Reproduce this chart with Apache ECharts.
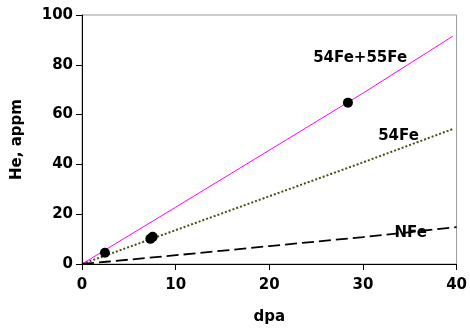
<!DOCTYPE html>
<html><head><meta charset="utf-8">
<script src="https://cdn.jsdelivr.net/npm/echarts@6/dist/echarts.min.js"></script>
<style>html,body{margin:0;padding:0;background:#fff}#c{width:470px;height:333px}</style>
</head><body><div id="c"></div>
<script>
const xTicks = [0, 10, 20, 30, 40];
const yTicks = [0, 20, 40, 60, 80, 100];
const fe54fe55 = [[0,0],[10,22.8],[20,45.7],[30,68.6],[39.6,91.5]];
const fe54 = [[0,0],[10,13.6],[20,27.2],[30,40.8],[39.6,54.2]];
const nfe = [[0,0],[2.6,0.9],[12.5,4.4],[20,7.2],[30,10.8],[40,14.8]];
const measured = [[2.45,4.5],[7.3,10.1],[7.55,10.9],[28.4,64.8]];
const labels = [
  {name:'54Fe+55Fe', at:[29.7,82.7]},
  {name:'54Fe', at:[33.8,51.4]},
  {name:'NFe', at:[35.1,12.4]}
];
const font = 'DejaVu Sans, sans-serif';
const chart = echarts.init(document.getElementById('c'), null, {renderer:'canvas'});
chart.setOption({
  animation:false,
  grid:{left:82,right:9,top:15,bottom:69,show:true,borderColor:'#999',borderWidth:1,backgroundColor:'#fff'},
  xAxis:{type:'value',min:0,max:40,interval:10,
    name:'dpa',nameLocation:'middle',nameGap:46,
    nameTextStyle:{fontFamily:font,fontWeight:'bold',fontSize:15,color:'#000'},
    axisLine:{show:true,lineStyle:{color:'#000',width:1}},
    axisTick:{show:true,length:6,lineStyle:{color:'#000'}},
    axisLabel:{fontFamily:font,fontWeight:'bold',fontSize:15,color:'#000',margin:14,
      formatter:v=>xTicks.includes(v)?String(v):''},
    splitLine:{show:false}},
  yAxis:{type:'value',min:0,max:100,interval:20,
    name:'He, appm',nameLocation:'middle',nameGap:57,nameRotate:90,
    nameTextStyle:{fontFamily:font,fontWeight:'bold',fontSize:15,color:'#000'},
    axisLine:{show:true,lineStyle:{color:'#000',width:1}},
    axisTick:{show:true,length:6,lineStyle:{color:'#000'}},
    axisLabel:{fontFamily:font,fontWeight:'bold',fontSize:15,color:'#000',margin:9,
      formatter:v=>yTicks.includes(v)?String(v):''},
    splitLine:{show:false}},
  series:[
    {type:'line',data:fe54fe55,symbol:'none',lineStyle:{color:'#ff00ff',width:1},z:3},
    {type:'line',data:fe54,symbol:'none',lineStyle:{color:'#4d4d1a',width:2,type:[2,2]},z:3},
    {type:'line',data:nfe,symbol:'none',lineStyle:{color:'#000',width:1.8,type:[12,5]},z:3},
    {type:'scatter',data:measured,symbol:'circle',symbolSize:10,itemStyle:{color:'#000',opacity:1},z:5},
    {type:'scatter',data:labels.map(l=>({value:l.at,name:l.name})),symbolSize:0,z:6,
      itemStyle:{opacity:1},
      label:{show:true,position:'inside',formatter:p=>p.name,opacity:1,textBorderWidth:0,
        fontFamily:font,fontWeight:'bold',fontSize:15,color:'#000'}}
  ]
});
</script></body></html>
